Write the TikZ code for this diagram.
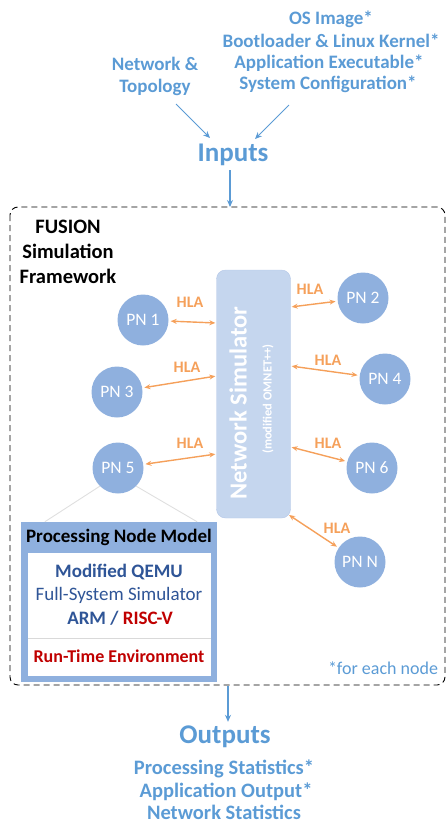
\documentclass[tikz,border=0pt]{standalone}
\usepackage{fontspec}
\setmainfont{Carlito}
\usetikzlibrary{arrows.meta,calc}
\definecolor{lblue}{RGB}{91,155,213}
\definecolor{pnfill}{RGB}{143,176,222}
\definecolor{nsfill}{RGB}{197,214,238}
\definecolor{nsdraw}{RGB}{180,199,231}
\definecolor{hlaor}{RGB}{245,160,90}
\definecolor{dblue}{RGB}{47,85,151}
\definecolor{dred}{RGB}{192,0,0}
\newcommand{\fsz}[1]{\fontsize{#1}{#1}\selectfont}
\tikzset{
  lbl/.style={text=lblue, font=\bfseries\fsz{19}, align=center, inner sep=0pt},
  big/.style={text=lblue, font=\bfseries\fsz{27}, inner sep=0pt},
  pn/.style={circle, fill=pnfill, minimum size=51pt, inner sep=0pt, text=white, font=\fsz{17.5}},
  hla/.style={draw=hlaor, line width=1.4pt, {Stealth[length=6pt,width=5pt]}-{Stealth[length=6pt,width=5pt]}, shorten <=2pt, shorten >=1pt},
  hlat/.style={text=hlaor, font=\bfseries\fsz{16}, inner sep=0pt},
  flow/.style={draw=lblue, line width=1.3pt, -{Stealth[length=7pt,width=6pt]}},
  pnmtext/.style={inner sep=0pt, font=\bfseries\fsz{19}},
}
\begin{document}
\begin{tikzpicture}[x=1pt,y=-1pt]
\useasboundingbox (0,0) rectangle (447,825);

% input labels
\node[lbl] (net) at (155,76) {Network \&\\[3pt]Topology};
\node[lbl] (img) at (331,19) {OS Image*};
\node[lbl] (boot) at (331,41) {Bootloader \& Linux Kernel*};
\node[lbl] (app) at (329,63) {Application Executable*};
\node[lbl] (sys) at (328,84) {System Configuration*};
\node[big] (in) at (233,155) {Inputs};
\coordinate (n1) at (176,104);
\coordinate (n2) at (289,105);
\draw[flow, line width=1pt] (n1) -- (210,138);
\draw[flow, line width=1pt] (n2) -- (255,139);

% framework outline
\draw[dashed, line width=0.9pt, rounded corners=8pt, dash pattern=on 6pt off 4pt] (10,207) rectangle (445,685);
\coordinate (fwtop) at (230,207);
\coordinate (fwbot) at (228,686);
\draw[flow] ($(in.south -| fwtop)+(0,4)$) -- (fwtop);

\node[inner sep=0pt, font=\bfseries\fsz{20.5}, align=center] (fus) at (68,252) {FUSION\\[4.5pt]Simulation\\[4.5pt]Framework};

% network simulator
\node[draw=nsdraw, fill=nsfill, rounded corners=9pt, minimum width=74pt, minimum height=248pt, inner sep=0pt] (ns) at (253.5,394) {};
\node[rotate=90, text=white, font=\bfseries\fsz{24.5}, inner sep=0pt] (nst) at (238,403) {Network Simulator};
\node[rotate=90, text=white, font=\bfseries\fsz{12.5}, inner sep=0pt] (nsm) at (268,399) {(modified OMNET++)};

% processing nodes
\node[pn] (pn1) at (143,320) {PN 1};
\node[pn] (pn2) at (363,298) {PN 2};
\node[pn] (pn3) at (117,392) {PN 3};
\node[pn] (pn4) at (385,379) {PN 4};
\node[pn] (pn5) at (118,468) {PN 5};
\node[pn] (pn6) at (372,468) {PN 6};
\node[pn] (pnn) at (360,562) {PN N};

% HLA links
\draw[hla] (pn1) -- (ns.west |- 0,323);
\draw[hla] (pn2) -- (ns.east |- 0,307);
\draw[hla] (pn3) -- (ns.west |- 0,376);
\draw[hla] (pn4) -- (ns.east |- 0,366);
\draw[hla] (pn5) -- (ns.west |- 0,454);
\draw[hla] (pn6) -- (ns.east |- 0,447);
\draw[hla, shorten >=0pt] (pnn) -- (289,515);
\node[hlat] (h1) at (190,302) {HLA};
\node[hlat] (h2) at (310,289) {HLA};
\node[hlat] (h3) at (187,367) {HLA};
\node[hlat] (h4) at (328,360) {HLA};
\node[hlat] (h5) at (190,443) {HLA};
\node[hlat] (h6) at (328,443) {HLA};
\node[hlat] (hn) at (337,528) {HLA};

% processing node model
\node[fill=pnfill, minimum width=196pt, minimum height=160pt, inner sep=0pt] (pnm) at (119,602) {};
\fill[white] (28,553) rectangle (211,676);
\draw[gray!30, line width=0.8pt] (28,638) -- (211,638);
\draw[gray!25, line width=0.9pt] (pn5.-135) -- ($(pnm.north west)+(24,0)$);
\draw[gray!25, line width=0.9pt] (pn5.-45) -- ($(pnm.north east)+(-20,0)$);
\node[pnmtext] (pnmh) at (119,537) {Processing Node Model};
\node[pnmtext, text=dblue] (qemu) at (119,572) {Modified QEMU};
\node[pnmtext, text=dblue, font=\fsz{19}] (fss) at (119,595) {Full-System Simulator};
\node[pnmtext] (isa) at (120,618) {\textcolor{dblue}{ARM /} \textcolor{dred}{RISC-V}};
\node[pnmtext, text=dred, font=\bfseries\fsz{18}] (rte) at (119,656) {Run-Time Environment};

\node[text=lblue, font=\fsz{18}, inner sep=0pt] (each) at (383,668) {*for each node};

% outputs
\node[big] (out) at (225,737) {Outputs};
\draw[flow] (fwbot) -- ($(out.north -| fwbot)+(0,-4)$);
\node[lbl, font=\bfseries\fsz{20.5}] (o1) at (224,769) {Processing Statistics*};
\node[lbl, font=\bfseries\fsz{20.5}] (o2) at (226,792) {Application Output*};
\node[lbl, font=\bfseries\fsz{20.5}] (o3) at (224,812) {Network Statistics};
\end{tikzpicture}
\end{document}
